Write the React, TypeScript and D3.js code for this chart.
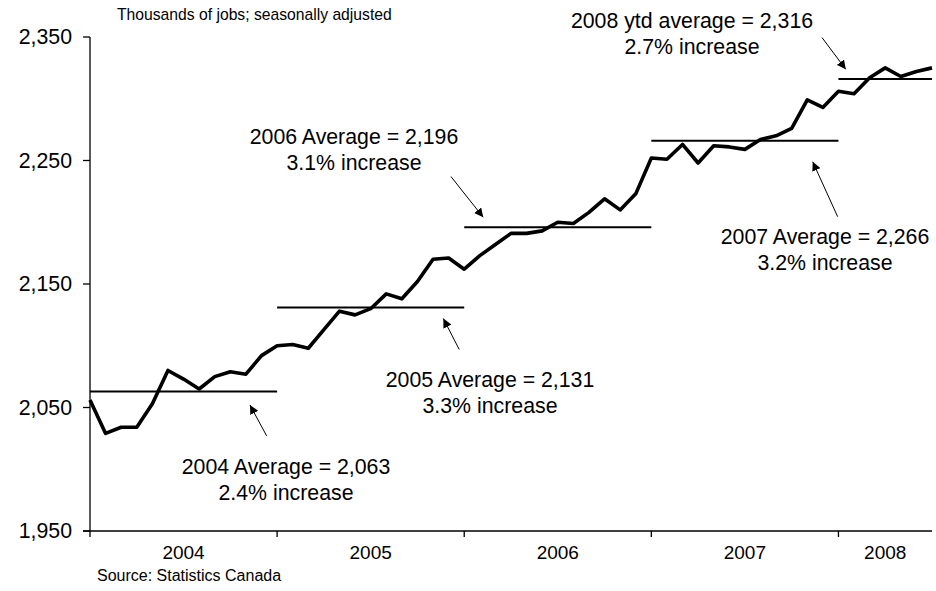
import React from "react";
import * as d3 from "d3";

// Monthly employment, Jan 2004 – Jul 2008 (thousands, seasonally adjusted)
const employment: number[] = [
  2056, 2029, 2034, 2034, 2053, 2080, 2073, 2065, 2075, 2079, 2077, 2092,
  2100, 2101, 2098, 2113, 2128, 2125, 2130, 2142, 2138, 2152, 2170, 2171,
  2162, 2173, 2182, 2191, 2191, 2193, 2200, 2199, 2208, 2219, 2210, 2223,
  2252, 2251, 2263, 2248, 2262, 2261, 2259, 2267, 2270, 2276, 2299, 2293,
  2306, 2304, 2317, 2325, 2318, 2322, 2325,
];
const years: string[] = ["2004", "2005", "2006", "2007", "2008"];
const yearStart: number[] = [0, 12, 24, 36, 48];
const yearEnd: number[] = [12, 24, 36, 48, 54];
const averages: number[] = [2063, 2131, 2196, 2266, 2316];
const avgLabels: string[] = [
  "2004 Average = 2,063",
  "2005 Average = 2,131",
  "2006 Average = 2,196",
  "2007 Average = 2,266",
  "2008 ytd average = 2,316",
];
const incLabels: string[] = [
  "2.4% increase",
  "3.3% increase",
  "3.1% increase",
  "3.2% increase",
  "2.7% increase",
];
const yTicks: number[] = [1950, 2050, 2150, 2250, 2350];

// layout (pixels) for annotation text: [centerX, firstLineCenterY]
const labelPos: [number, number][] = [
  [286, 467],
  [490, 380],
  [354, 137],
  [825, 237],
  [692, 21],
];
// arrows in data coordinates: [tailIdx, tailVal, tipIdx, tipVal]
const arrows: [number, number, number, number][] = [
  [11.33, 2027, 10.26, 2052],
  [23.68, 2097, 22.66, 2122],
  [23.15, 2237, 25.22, 2204],
  [47.95, 2204.5, 46.35, 2249],
  [46.95, 2349.5, 48.47, 2323.8],
];

const W = 936;
const H = 591;
const FONT = "'Liberation Sans', Arial, sans-serif";
const ANN = 21.3;

export default function App() {
  const x = d3.scaleLinear().domain([0, 54]).range([90, 932]);
  const y = d3.scaleLinear().domain([1950, 2350]).range([531, 37]);
  const line = d3
    .line<number>()
    .x((_, i) => x(i))
    .y((d) => y(d));

  return (
    <svg
      width={W}
      height={H}
      style={{ position: "absolute", left: 0, top: 0, background: "#fff" }}
      fontFamily={FONT}
    >
      <defs>
        <marker
          id="ah"
          viewBox="0 0 10 10"
          refX="10"
          refY="5"
          markerWidth="9"
          markerHeight="9"
          markerUnits="userSpaceOnUse"
          orient="auto"
        >
          <path d="M0,0 L10,5 L0,10 Z" fill="#000" />
        </marker>
      </defs>
      <rect x={0} y={0} width={W} height={H} fill="#fff" />

      {/* subtitle */}
      <text x={117} y={19.5} fontSize={15.7} fill="#000">
        Thousands of jobs; seasonally adjusted
      </text>

      {/* y axis */}
      <line x1={x(0)} x2={x(0)} y1={y(2350)} y2={y(1950)} stroke="#000" strokeWidth={1.3} />
      {yTicks.map((t) => (
        <g key={t}>
          <line x1={83} x2={x(0)} y1={y(t)} y2={y(t)} stroke="#000" strokeWidth={1.3} />
          <text x={72} y={y(t)} dy="0.35em" textAnchor="end" fontSize={21.3} fill="#000">
            {d3.format(",")(t)}
          </text>
        </g>
      ))}

      {/* x axis */}
      <line x1={83} x2={x(54)} y1={y(1950)} y2={y(1950)} stroke="#000" strokeWidth={1.3} />
      {yearStart.map((s) => (
        <line key={s} x1={x(s)} x2={x(s)} y1={y(1950)} y2={y(1950) + 6} stroke="#000" strokeWidth={1.3} />
      ))}
      {years.map((yr, i) => (
        <text
          key={yr}
          x={(x(yearStart[i]) + x(yearEnd[i])) / 2}
          y={552}
          dy="0.35em"
          textAnchor="middle"
          fontSize={19}
          fill="#000"
        >
          {yr}
        </text>
      ))}

      {/* yearly averages */}
      {averages.map((a, i) => (
        <line
          key={i}
          x1={x(yearStart[i])}
          x2={x(yearEnd[i])}
          y1={y(a)}
          y2={y(a)}
          stroke="#000"
          strokeWidth={2}
        />
      ))}

      {/* data line */}
      <path
        d={line(employment) || ""}
        fill="none"
        stroke="#000"
        strokeWidth={3.6}
        strokeLinejoin="round"
      />

      {/* arrows */}
      {arrows.map((a, i) => (
        <line
          key={i}
          x1={x(a[0])}
          y1={y(a[1])}
          x2={x(a[2])}
          y2={y(a[3])}
          stroke="#000"
          strokeWidth={1}
          markerEnd="url(#ah)"
        />
      ))}

      {/* annotation text */}
      {avgLabels.map((t, i) => (
        <g key={t}>
          <text
            x={labelPos[i][0]}
            y={labelPos[i][1]}
            dy="0.35em"
            textAnchor="middle"
            fontSize={ANN}
            fill="#000"
          >
            {t}
          </text>
          <text
            x={labelPos[i][0]}
            y={labelPos[i][1] + 26}
            dy="0.35em"
            textAnchor="middle"
            fontSize={ANN}
            fill="#000"
          >
            {incLabels[i]}
          </text>
        </g>
      ))}

      {/* source */}
      <text x={97} y={575} dy="0.35em" fontSize={16} fill="#000">
        Source: Statistics Canada
      </text>
    </svg>
  );
}
